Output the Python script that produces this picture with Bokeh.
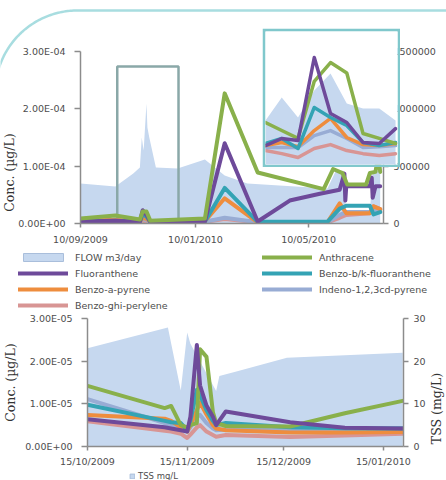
import numpy as np
import pandas as pd
from bokeh.plotting import figure
from bokeh.models import (Range1d, LinearAxis, DatetimeTickFormatter, FixedTicker, Label,
                          Legend, LegendItem, CustomJSTickFormatter, BasicTickFormatter)
from bokeh.embed import file_html
from bokeh.resources import INLINE

# ---------------- data: top chart (conc. in 1e-5 ug/L, flow m3/day) ----------------
flow_dates = ["2009-09-10", "2009-10-17", "2009-11-05", "2009-11-12", "2009-11-14", "2009-11-16",
              "2009-11-19", "2009-11-20", "2009-11-22", "2009-11-29", "2009-12-22", "2010-01-20",
              "2010-02-10", "2010-03-06", "2010-05-30", "2010-06-08", "2010-06-16", "2010-06-19",
              "2010-07-14", "2010-07-17", "2010-07-25"]
flow_vals = [349000, 323000, 436000, 488000, 750000, 637000, 1047000, 837000, 750000, 488000,
             480000, 558000, 419000, 349000, 305000, 460000, 460000, 100000, 100000, 460000, 460000]

anth_dates = ["2009-09-10", "2009-10-17", "2009-11-12", "2009-11-15", "2009-11-19", "2009-11-23",
              "2010-01-20", "2010-02-10", "2010-03-17", "2010-05-26", "2010-06-05", "2010-06-15",
              "2010-06-20", "2010-07-10", "2010-07-14", "2010-07-20", "2010-07-23", "2010-07-25"]
anth_vals = [0.87, 1.4, 0.7, 2.1, 2.1, 0.5, 0.87, 22.7, 8.9, 6.0, 9.5, 8.8, 6.8, 6.8, 8.8, 9.0, 12.0, 9.0]

fluo_dates = ["2009-09-10", "2009-10-17", "2009-11-12", "2009-11-15", "2009-11-19", "2009-11-23",
              "2010-01-20", "2010-02-10", "2010-03-17", "2010-04-20", "2010-05-22", "2010-06-12",
              "2010-06-17", "2010-06-18", "2010-06-19", "2010-07-14", "2010-07-16", "2010-07-17",
              "2010-07-20", "2010-07-25"]
fluo_vals = [0.35, 0.5, 0.3, 2.3, 1.5, 0.3, 0.35, 14.0, 0.35, 4.0, 5.2, 5.9, 8.7, 4.0, 6.5, 6.5,
             8.0, 4.5, 6.5, 6.5]

pah_dates = ["2009-09-10", "2009-10-17", "2009-11-12", "2009-11-15", "2009-11-19", "2009-11-23",
             "2010-01-20", "2010-02-10", "2010-03-17", "2010-05-30", "2010-06-12", "2010-06-19",
             "2010-07-14", "2010-07-18", "2010-07-25"]
bbk_vals = [0.35, 0.5, 0.3, 1.6, 1.2, 0.3, 0.35, 6.2, 0.3, 0.3, 2.6, 3.1, 3.1, 1.6, 2.0]
bap_vals = [0.5, 0.6, 0.3, 1.0, 0.8, 0.3, 0.4, 4.4, 0.2, 0.2, 3.5, 1.8, 1.8, 3.0, 2.5]
ind_vals = [0.3, 0.4, 0.2, 0.8, 0.6, 0.2, 0.3, 1.0, 0.2, 0.2, 1.5, 2.0, 2.0, 2.5, 2.0]
bghi_vals = [0.4, 0.6, 0.3, 0.5, 0.4, 0.3, 0.3, 0.8, 0.2, 0.2, 1.0, 1.5, 1.8, 3.0, 2.5]

top_ticks = ["2009-09-10", "2010-01-10", "2010-05-10"]
top_x_start, top_x_end = "2009-09-10", "2010-07-28 12:00"
# highlight box drawn over the flow peak
hl_left, hl_right, hl_bottom, hl_top = "2009-10-19", "2009-12-23", 0.07, 27.4

# ---------------- data: bottom chart (conc. in 1e-5 ug/L, TSS mg/L) ----------------
b_dates = ["2009-10-15", "2009-11-08", "2009-11-10", "2009-11-13", "2009-11-15", "2009-11-16",
           "2009-11-18", "2009-11-19", "2009-11-21", "2009-11-23", "2009-11-24", "2009-11-27",
           "2009-12-17", "2010-01-03", "2010-01-21"]
b_anth = [1.42, 0.90, 0.95, 0.50, 0.45, 0.50, 0.55, 2.28, 2.10, 0.80, 0.55, 0.48, 0.47, 0.78, 1.07]
b_fluo = [0.64, 0.45, 0.42, 0.38, 0.35, 0.70, 2.38, 1.43, 0.96, 0.70, 0.50, 0.82, 0.57, 0.44, 0.42]
b_bbk = [0.98, 0.60, 0.57, 0.55, 0.38, 0.60, 1.33, 1.20, 0.85, 0.60, 0.50, 0.55, 0.45, 0.43, 0.42]
b_bap = [0.74, 0.65, 0.60, 0.45, 0.35, 0.50, 0.85, 1.03, 0.75, 0.50, 0.42, 0.38, 0.33, 0.33, 0.34]
b_ind = [1.11, 0.55, 0.50, 0.42, 0.35, 0.45, 0.70, 0.74, 0.55, 0.42, 0.38, 0.40, 0.38, 0.40, 0.43]
b_bghi = [0.59, 0.37, 0.35, 0.30, 0.20, 0.28, 0.45, 0.50, 0.35, 0.27, 0.23, 0.27, 0.22, 0.26, 0.30]

tss_dates = ["2009-10-15", "2009-11-09", "2009-11-13", "2009-11-15", "2009-11-16", "2009-11-24",
             "2009-11-25", "2009-11-30", "2009-12-16", "2010-01-21"]
tss_vals = [23.0, 27.9, 13.1, 26.7, 24.1, 13.0, 16.5, 17.5, 20.8, 22.0]

bot_ticks = ["2009-10-15", "2009-11-15", "2009-12-15", "2010-01-15"]
bot_x_start, bot_x_end = "2009-10-15", "2010-01-21 06:00"

# ---------------- data: inset (relative units, sample index) ----------------
inset_idx = [0, 1, 2, 3, 4, 5, 6, 7, 8]
inset_flow = [33.8, 50.4, 36.0, 55.4, 67.6, 46.0, 42.4, 42.4, 33.8]
inset_anth = [32.4, 26.6, 21.0, 62.0, 75.5, 68.0, 24.5, 21.0, 17.3]
inset_fluo = [15.8, 20.9, 19.4, 79.1, 38.8, 32.4, 18.0, 17.3, 28.0]
inset_bbk = [17.3, 20.9, 13.7, 43.2, 36.0, 30.2, 18.0, 15.8, 18.0]
inset_bap = [15.8, 18.0, 15.0, 26.6, 35.3, 21.6, 16.5, 15.8, 17.3]
inset_ind = [14.4, 14.4, 14.4, 23.0, 26.6, 20.9, 14.4, 15.0, 15.8]
inset_bghi = [12.2, 10.0, 7.2, 13.7, 16.5, 12.2, 10.0, 8.6, 10.0]

series_labels = ["FLOW m3/day", "Anthracene", "Fluoranthene", "Benzo-b/k-fluoranthene",
                 "Benzo-a-pyrene", "Indeno-1,2,3cd-pyrene", "Benzo-ghi-perylene"]
tss_label = "TSS mg/L"
conc_title = "Conc. (µg/L)"
tss_title = "TSS (mg/L)"

# ---------------- styles ----------------
C_AREA = "#c6d8ef"
C_AREA_EDGE = "#a9bedb"
C_ANTH = "#89b04b"
C_FLUO = "#6e4a9a"
C_BBK = "#34a3b4"
C_BAP = "#ee8d3e"
C_IND = "#98acd4"
C_BGHI = "#d89594"
C_BOX = "#8aa8a8"
C_INSET = "#80c8cc"
C_DECOR = "#a8dde0"
FONT = "DejaVu Sans"
TFONT = "DejaVu Serif"
TXT = "#4d4d4d"
AXC = "#8c8c8c"
LW = 4

SCI = CustomJSTickFormatter(code="""
if (tick == 0) { return "0.00E+00"; }
var s = tick.toExponential(2).toUpperCase().split("E");
var e = parseInt(s[1]); var a = Math.abs(e);
return s[0] + "E" + (e < 0 ? "-" : "+") + (a < 10 ? "0" : "") + a;
""")

DATEFMT = DatetimeTickFormatter(microseconds="%d/%m/%Y", milliseconds="%d/%m/%Y", seconds="%d/%m/%Y",
                                minsec="%d/%m/%Y", minutes="%d/%m/%Y", hourmin="%d/%m/%Y",
                                hours="%d/%m/%Y", days="%d/%m/%Y", months="%d/%m/%Y", years="%d/%m/%Y")


def ms(d):
    return pd.Timestamp(d).value / 1e6


def dt(lst):
    return pd.to_datetime(lst)


def scale(vals, f=1e-5):
    return [v * f for v in vals]


def pos(left, top):
    return {"position": "absolute", "left": f"{left}px", "top": f"{top}px"}


def style_axis(ax, tick_out=5, standoff=6):
    ax.axis_line_color = AXC
    ax.axis_line_width = 1.5
    ax.major_tick_line_color = AXC
    ax.major_tick_line_width = 1.5
    ax.major_tick_out = tick_out
    ax.major_tick_in = 0
    ax.minor_tick_line_color = None
    ax.major_label_text_font = FONT
    ax.major_label_text_font_size = "9.5px"
    ax.major_label_text_color = TXT
    ax.major_label_standoff = standoff
    ax.axis_label_text_font = TFONT
    ax.axis_label_text_font_size = "12.5px"
    ax.axis_label_text_font_style = "normal"
    ax.axis_label_text_color = "#333333"


def overlay_fig(w, h, left, top, **extra):
    f = figure(width=w, height=h, output_backend="svg", toolbar_location=None,
               x_axis_location=None, y_axis_location=None, min_border=0,
               outline_line_color=None, border_fill_alpha=0, background_fill_alpha=0,
               styles={**pos(left, top), "pointer-events": "none"}, **extra)
    f.grid.visible = False
    return f


kw = dict(line_width=LW, line_join="round", line_cap="round")

# ---------------- top chart ----------------
top = figure(width=446, height=312, x_axis_type="datetime", output_backend="svg",
             toolbar_location=None,
             x_range=Range1d(pd.Timestamp(top_x_start), pd.Timestamp(top_x_end)),
             y_range=Range1d(0, 3e-4),
             min_border_left=80, min_border_right=63, min_border_top=51, min_border_bottom=89,
             styles=pos(0, 0))
top.extra_y_ranges = {"flow": Range1d(0, 1.5e6)}
top.grid.visible = False
top.outline_line_color = None

top.varea(x=dt(flow_dates), y1=0, y2=flow_vals, y_range_name="flow", fill_color=C_AREA)
top.quad(left=[pd.Timestamp(hl_left)], right=[pd.Timestamp(hl_right)],
         bottom=[hl_bottom * 1e-5], top=[hl_top * 1e-5],
         fill_color=None, line_color=C_BOX, line_width=2.5)
top.line(dt(pah_dates), scale(bghi_vals), line_color=C_BGHI, **kw)
top.line(dt(pah_dates), scale(ind_vals), line_color=C_IND, **kw)
top.line(dt(pah_dates), scale(bap_vals), line_color=C_BAP, **kw)
top.line(dt(pah_dates), scale(bbk_vals), line_color=C_BBK, **kw)
top.line(dt(fluo_dates), scale(fluo_vals), line_color=C_FLUO, **kw)
top.line(dt(anth_dates), scale(anth_vals), line_color=C_ANTH, **kw)

lax = top.yaxis[0]
style_axis(lax, tick_out=6, standoff=9)
lax.ticker = FixedTicker(ticks=[0, 1e-4, 2e-4, 3e-4])
lax.formatter = SCI

bax = top.xaxis[0]
style_axis(bax, tick_out=4, standoff=6)
bax.ticker = FixedTicker(ticks=[ms(d) for d in top_ticks])
bax.formatter = DATEFMT

rax = LinearAxis(y_range_name="flow", ticker=FixedTicker(ticks=[0, 5e5, 1e6, 1.5e6]),
                 formatter=BasicTickFormatter(use_scientific=False))
style_axis(rax, tick_out=5, standoff=5)
top.add_layout(rax, "right")

# ---------------- top legend (own small canvas) ----------------
lg = overlay_fig(428, 64, 18, 249, x_range=Range1d(0, 1), y_range=Range1d(0, 1))
off = dict(left=[5], right=[6], bottom=[5], top=[6])
lg_r = [lg.quad(**off, fill_color=C_AREA, line_color=C_AREA_EDGE, line_width=1)]
for c in [C_ANTH, C_FLUO, C_BBK, C_BAP, C_IND, C_BGHI]:
    lg_r.append(lg.line(x=[5, 6], y=[5, 5], line_color=c, **kw))
leg = Legend(items=[LegendItem(label=l, renderers=[r]) for l, r in zip(series_labels, lg_r)],
             location="top_left", orientation="horizontal", ncols=2,
             label_text_font=FONT, label_text_font_size="9.5px", label_text_color=TXT,
             glyph_width=50, glyph_height=10, label_standoff=7, label_width=187, label_height=16,
             spacing=0, padding=0, margin=0, border_line_color=None, background_fill_alpha=0)
lg.add_layout(leg, "center")

# ---------------- bottom chart ----------------
bot = figure(width=446, height=168, x_axis_type="datetime", output_backend="svg",
             toolbar_location=None,
             x_range=Range1d(pd.Timestamp(bot_x_start), pd.Timestamp(bot_x_end)),
             y_range=Range1d(0, 3e-5),
             min_border_left=80, min_border_right=43, min_border_top=6, min_border_bottom=34,
             styles=pos(0, 312))
bot.extra_y_ranges = {"tss": Range1d(0, 30)}
bot.grid.visible = False
bot.outline_line_color = None

bot.varea(x=dt(tss_dates), y1=0, y2=tss_vals, y_range_name="tss", fill_color=C_AREA)
bd = dt(b_dates)
bot.line(bd, scale(b_bghi), line_color=C_BGHI, **kw)
bot.line(bd, scale(b_ind), line_color=C_IND, **kw)
bot.line(bd, scale(b_bap), line_color=C_BAP, **kw)
bot.line(bd, scale(b_bbk), line_color=C_BBK, **kw)
bot.line(bd, scale(b_anth), line_color=C_ANTH, **kw)
bot.line(bd, scale(b_fluo), line_color=C_FLUO, **kw)

blax = bot.yaxis[0]
style_axis(blax, tick_out=6, standoff=9)
blax.ticker = FixedTicker(ticks=[0, 1e-5, 2e-5, 3e-5])
blax.formatter = SCI
blax.axis_label = conc_title
blax.axis_label_standoff = 4

bbx = bot.xaxis[0]
style_axis(bbx, tick_out=4, standoff=5)
bbx.ticker = FixedTicker(ticks=[ms(d) for d in bot_ticks])
bbx.formatter = DATEFMT

brax = LinearAxis(y_range_name="tss", ticker=FixedTicker(ticks=[0, 10, 20, 30]))
style_axis(brax, tick_out=5, standoff=5)
bot.add_layout(brax, "right")

# ---------------- bottom legend (own small canvas) ----------------
lg2 = overlay_fig(70, 9, 129, 471, x_range=Range1d(0, 1), y_range=Range1d(0, 1))
lg2_r = lg2.quad(**off, fill_color=C_AREA, line_color=C_AREA_EDGE, line_width=1)
leg2 = Legend(items=[LegendItem(label=tss_label, renderers=[lg2_r])],
              location="top_left", label_text_font=FONT, label_text_font_size="8.5px",
              label_text_color=TXT, glyph_width=6, glyph_height=6, label_standoff=3,
              label_height=9, spacing=0, padding=0, margin=0, border_line_color=None,
              background_fill_alpha=0)
lg2.add_layout(leg2, "center")

# ---------------- inset (zoom box) ----------------
inset = figure(width=138, height=139, output_backend="svg", toolbar_location=None,
               x_range=Range1d(-0.0, 8.12), y_range=Range1d(2.2, 97.8),
               x_axis_location=None, y_axis_location=None, min_border=3,
               border_fill_color=C_INSET, outline_line_color=None,
               styles=pos(262, 28))
inset.grid.visible = False
inset.varea(x=inset_idx, y1=0, y2=inset_flow, fill_color=C_AREA)
ikw = dict(line_width=3.5, line_join="round", line_cap="round")
inset.line(inset_idx, inset_bghi, line_color=C_BGHI, **ikw)
inset.line(inset_idx, inset_ind, line_color=C_IND, **ikw)
inset.line(inset_idx, inset_bap, line_color=C_BAP, **ikw)
inset.line(inset_idx, inset_bbk, line_color=C_BBK, **ikw)
inset.line(inset_idx, inset_anth, line_color=C_ANTH, **ikw)
inset.line(inset_idx, inset_fluo, line_color=C_FLUO, **ikw)

# ---------------- page overlay: rounded frame + placed axis titles (page pixels) ----------------
arc_cx, arc_cy, arc_r = 77, 92.4, 82.4
top_title_x, top_title_y = 9, 172
tss_title_x, tss_title_y = 436, 408
decor = overlay_fig(446, 480, 0, 0, x_range=Range1d(0, 446), y_range=Range1d(480, 0))
ang = np.radians(np.linspace(90, 170, 60))
ax_ = list(arc_cx + arc_r * np.cos(ang))[::-1] + [arc_cx, 446]
ay_ = list(arc_cy - arc_r * np.sin(ang))[::-1] + [arc_cy - arc_r, arc_cy - arc_r]
decor.line(ax_, ay_, line_color=C_DECOR, line_width=2.5)
for tx, ty, tt in [(top_title_x, top_title_y, conc_title), (tss_title_x, tss_title_y, tss_title)]:
    decor.add_layout(Label(x=tx, y=ty, text=tt, angle=np.pi / 2, text_align="center",
                           text_baseline="middle", text_font=TFONT, text_font_size="12.5px",
                           text_color="#333333"))

open("out.html", "w").write(file_html([top, bot, lg, lg2, inset, decor], INLINE))
